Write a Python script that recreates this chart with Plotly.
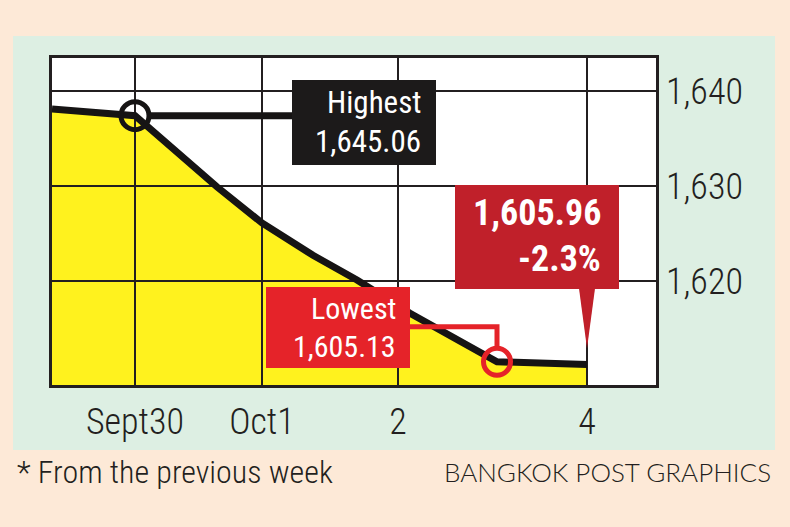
import plotly.graph_objects as go

# ---------------- data ----------------
x_pos = [0.0, 8.3, 16.5, 21.0, 26.1, 30.5, 35.8, 44.5, 53.5]
index_vals = [1638.1, 1637.4, 1629.9, 1626.1, 1622.7, 1620.1, 1616.6, 1611.5, 1611.2]
x_tick_vals = [8.3, 21.0, 34.6, 53.5]
x_tick_labels = ["Sept30", "Oct1", "2", "4"]
y_tick_vals = [1620, 1630, 1640]
y_tick_labels = ["1,620", "1,630", "1,640"]
high_label = ["Highest", "1,645.06"]
low_label = ["Lowest", "1,605.13"]
close_label = ["1,605.96", "-2.3%"]
high_idx = 1
low_idx = 7
last_idx = len(x_pos) - 1
x_range = [0, 60.4]
y_range = [1609.05, 1643.47]

# ---------------- styles ----------------
FONT = "Roboto Condensed, Liberation Sans Narrow, Roboto, sans-serif"
INK = "#231f20"
PEACH = "#fde9d7"
GREEN = "#ddefe3"
YELLOW = "#fff21e"
BLACKBOX = "#1c1a1a"
DARKRED = "#c0202a"
RED = "#e52329"

W, H = 790, 527
ML, MR, MT, MB = 52, 134, 58, 142


def px(xp):
    return (xp - ML) / (W - ML - MR)


def py(yp):
    return (H - MB - yp) / (H - MT - MB)


fig = go.Figure()

# yellow area
fig.add_trace(go.Scatter(x=x_pos, y=index_vals, mode="lines", fill="tozeroy",
                         fillcolor=YELLOW, line=dict(width=0), hoverinfo="skip"))

# grid lines drawn from the tick arrays (above the fill, below the line)
gx, gy = [], []
for t in x_tick_vals:
    gx += [t, t, None]
    gy += [y_range[0], y_range[1], None]
for t in y_tick_vals:
    gx += [x_range[0], x_range[1], None]
    gy += [t, t, None]
fig.add_trace(go.Scatter(x=gx, y=gy, mode="lines", line=dict(color=INK, width=2),
                         hoverinfo="skip"))

# index line
fig.add_trace(go.Scatter(x=x_pos, y=index_vals, mode="lines",
                         line=dict(color="#161414", width=7), hoverinfo="skip"))

# rings
fig.add_trace(go.Scatter(x=[x_pos[high_idx]], y=[index_vals[high_idx]], mode="markers",
                         marker=dict(symbol="circle-open", size=28, color="#161414",
                                     line=dict(width=5, color="#161414")), hoverinfo="skip"))
fig.add_trace(go.Scatter(x=[x_pos[low_idx]], y=[index_vals[low_idx]], mode="markers",
                         marker=dict(symbol="circle-open", size=27, color=RED,
                                     line=dict(width=5, color=RED)), hoverinfo="skip"))

shapes = [
    dict(type="rect", xref="paper", yref="paper", x0=px(13), x1=px(775), y0=py(450), y1=py(36),
         fillcolor=GREEN, line=dict(width=0), layer="below"),
    dict(type="rect", xref="paper", yref="paper", x0=0, x1=1, y0=0, y1=1,
         fillcolor="white", line=dict(width=0), layer="below"),
    # highest connector
    dict(type="line", xref="x", yref="y", xsizemode="pixel", xanchor=x_pos[high_idx],
         x0=14, x1=160, y0=index_vals[high_idx], y1=index_vals[high_idx],
         line=dict(color="#161414", width=7), layer="above"),
    # highest box
    dict(type="rect", xref="paper", yref="paper", x0=px(292), x1=px(436), y0=py(165), y1=py(80),
         fillcolor=BLACKBOX, line=dict(width=0), layer="above"),
    # lowest connector
    dict(type="path", xref="x", yref="y", xsizemode="pixel", ysizemode="pixel",
         xanchor=x_pos[low_idx], yanchor=index_vals[low_idx],
         path="M -90,35 L 0,35 L 0,15", line=dict(color=RED, width=5), layer="above"),
    # lowest box
    dict(type="rect", xref="paper", yref="paper", x0=px(266), x1=px(410), y0=py(368), y1=py(287),
         fillcolor=RED, line=dict(width=0), layer="above"),
    # close box + pointer
    dict(type="rect", xref="paper", yref="paper", x0=px(455), x1=px(619), y0=py(289), y1=py(185),
         fillcolor=DARKRED, line=dict(width=0), layer="above"),
    dict(type="path", xref="x", yref="y", xsizemode="pixel", ysizemode="pixel",
         xanchor=x_pos[last_idx], yanchor=index_vals[last_idx],
         path="M -8,76 L 8,76 L 0,16 Z", fillcolor=DARKRED, line=dict(width=0), layer="above"),
]


def label(text, xr, yc, size, color="white", bold=False, family=FONT):
    return dict(xref="paper", yref="paper", x=px(xr), y=py(yc), xanchor="right",
                yanchor="middle", showarrow=False, text=("<b>%s</b>" % text) if bold else text,
                font=dict(family=family, size=size, color=color))


annotations = [
    label(high_label[0], 423, 102, 31),
    label(high_label[1], 423, 141, 31),
    label(low_label[0], 398, 308, 30),
    label(low_label[1], 398, 346, 30),
    label(close_label[0], 603, 213, 36, bold=True),
    label(close_label[1], 603, 259, 36, bold=True),
    dict(xref="paper", yref="paper", x=px(15), y=py(472), xanchor="left", yanchor="middle",
         showarrow=False, text="* From the previous week",
         font=dict(family=FONT, size=32, color=INK, weight=300)),
    dict(xref="paper", yref="paper", x=px(773), y=py(472), xanchor="right", yanchor="middle",
         showarrow=False, text="BANGKOK POST GRAPHICS",
         font=dict(family="Lato, sans-serif", size=26, color=INK, weight=300)),
]

fig.update_layout(
    width=W, height=H, margin=dict(l=ML, r=MR, t=MT, b=MB),
    paper_bgcolor=PEACH, plot_bgcolor="white", showlegend=False,
    shapes=shapes, annotations=annotations,
    xaxis=dict(range=x_range, tickvals=x_tick_vals, ticktext=x_tick_labels, showgrid=False,
               zeroline=False, showline=True, mirror=True, linecolor=INK, linewidth=2.5,
               ticks="", ticklabelstandoff=3,
               tickfont=dict(family=FONT, size=36, color=INK, weight=300),
               fixedrange=True, automargin=False),
    yaxis=dict(range=y_range, tickvals=y_tick_vals, ticktext=y_tick_labels, side="right",
               showgrid=False, zeroline=False, showline=True, mirror=True, linecolor=INK,
               linewidth=2.5, ticks="", ticklabelstandoff=0,
               tickfont=dict(family=FONT, size=36, color=INK, weight=300), fixedrange=True,
               automargin=False),
)

fig.write_html("out.html", config={"displayModeBar": False},
               post_script="document.body.style.margin='0';document.body.style.padding='0';")
